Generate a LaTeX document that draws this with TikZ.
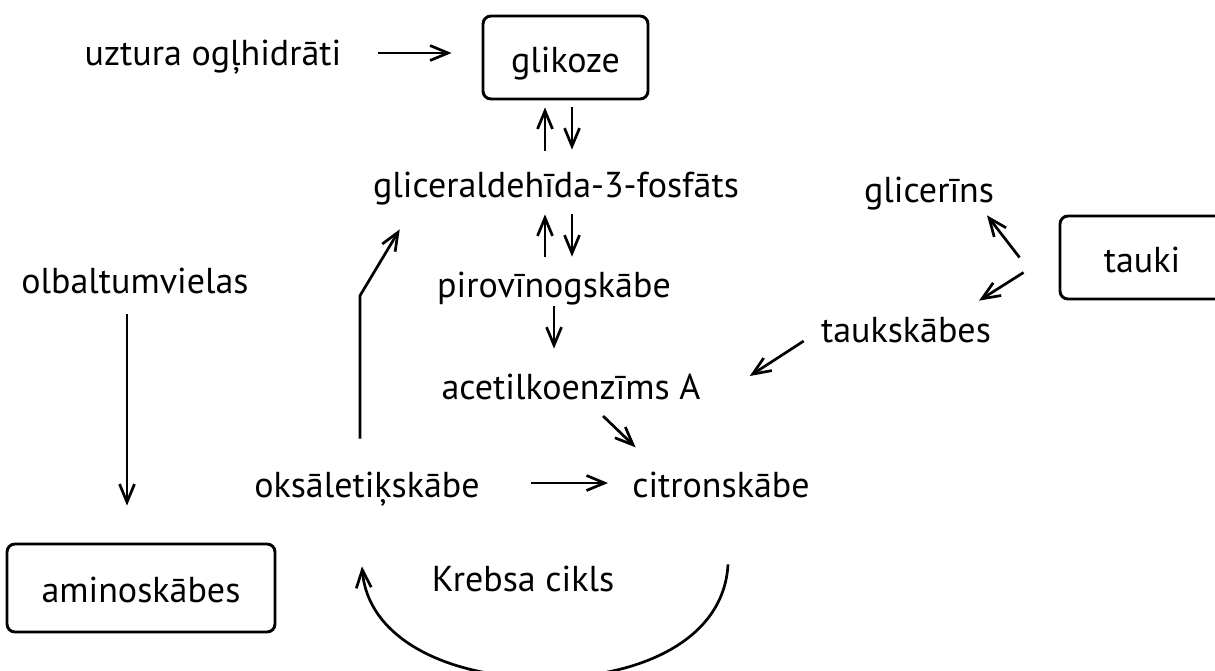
\documentclass[tikz,border=0pt]{standalone}
\usepackage{fontspec}
\setmainfont{PT Sans}
\usetikzlibrary{arrows.meta}

\begin{document}
\begin{tikzpicture}[x=1pt, y=-1pt, line width=2.7pt,
  >={Straight Barb[length=18pt,width=15pt]},
  term/.style={font=\fontsize{36}{43}\selectfont, inner sep=0pt, anchor=base,
    text height=22pt, text depth=6pt},
  sbox/.style={draw, rounded corners=8pt, line width=2.9pt, inner sep=0pt,
    font=\fontsize{36}{43}\selectfont, text height=29pt, text depth=0pt}]
\useasboundingbox (0,0) rectangle (1215,670);
% boxes
\node[sbox, minimum width=165pt, minimum height=83pt] (glik) at (565.5,57.5) {glikoze};
\node[sbox, minimum width=268pt, minimum height=88pt] (amino) at (141,588) {aminoskābes};
\node[sbox, minimum width=164pt, minimum height=83pt] (tauki) at (1142,257.5) {tauki};
% texts
\node[term] (uzt) at (213,65) {uztura ogļhidrāti};
\node[term] (glic) at (556,197) {gliceraldehīda-3-fosfāts};
\node[term] (piro) at (554,297) {pirovīnogskābe};
\node[term] (acetil) at (571,399) {acetilkoenzīms A};
\node[term] (oks) at (367,497) {oksāletiķskābe};
\node[term] (citron) at (721,497) {citronskābe};
\node[term] (olb) at (135,293) {olbaltumvielas};
\node[term] (krebs) at (523,591) {Krebsa cikls};
\node[term] (glicr) at (929,202) {glicerīns};
\node[term] (tauks) at (906,342) {taukskābes};
% arrows
\draw[->, shorten <=35pt, shorten >=30pt] ([yshift=4pt]uzt.east) -- ([yshift=4pt]uzt.east -| glik.west);
\draw[->, shorten <=23pt, shorten >=7pt] ([xshift=-11pt]glic.north) -- ([xshift=-11pt]glic.north |- glik.south);
\draw[->, shorten <=7pt, shorten >=24pt] ([xshift=16pt]glic.north |- glik.south) -- ([xshift=16pt]glic.north);
\draw[->, shorten <=17pt, shorten >=10pt] ([xshift=-11pt]glic.south |- piro.north) -- ([xshift=-11pt]glic.south);
\draw[->, shorten <=10pt, shorten >=17pt] ([xshift=16pt]glic.south) -- ([xshift=16pt]glic.south |- piro.north);
\draw[->, shorten <=2pt, shorten >=27pt] (piro.south) -- (piro.south |- acetil.north);
\draw[->, shorten <=14pt, shorten >=38pt] ([xshift=22pt]acetil.south) -- ([xshift=-58pt]citron.north);
\draw[->, shorten <=50pt, shorten >=23pt] ([yshift=6pt]oks.east) -- ([yshift=6pt]oks.east -| citron.west);
\draw[->] ([xshift=-7pt,yshift=35pt]oks.north) -- ++(0pt,143pt) -- ([xshift=28pt,yshift=-25pt]glic.south west);
\draw[->, shorten <=14pt, shorten >=37pt] ([xshift=-8pt]olb.south) -- ([xshift=-8pt]olb.south |- amino.north);
\draw[->] ([xshift=-39pt]tauki.west) -- ([xshift=58pt,yshift=-6pt]glicr.south);
\draw[->] ([xshift=-35pt,yshift=-15pt]tauki.west) -- ([xshift=73pt,yshift=18pt]tauks.north);
\draw[->] ([xshift=-16pt,yshift=-7pt]tauks.west) -- ([xshift=48pt,yshift=15pt]acetil.east);
% Krebsa cikls
\draw[->] ([xshift=7pt,yshift=-60pt]citron.south) .. controls (724,640) and (640,678) .. (545,678)
  .. controls (450,678) and (368,640) .. ([xshift=-5pt,yshift=-62pt]oks.south);
\end{tikzpicture}
\end{document}
